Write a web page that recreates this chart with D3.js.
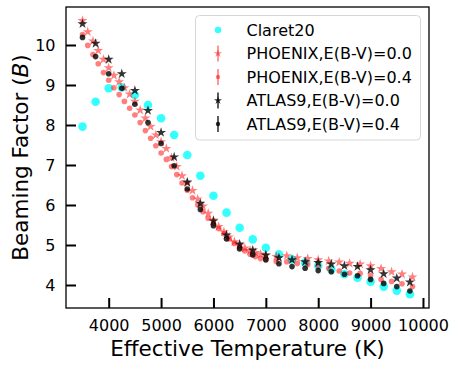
<!DOCTYPE html>
<html lang="en">
  <head>
    <meta charset="utf-8" />
    <title>Beaming factor</title>
    <script src="https://cdn.jsdelivr.net/npm/d3@7/dist/d3.min.js"></script>
    <style>
      body { margin: 0; background: #fff; }
      text { font-family: "DejaVu Sans", sans-serif; fill: #000; }
    </style>
  </head>
  <body>
    <div id="chart"></div>
    <script>
    // Claret20 and ATLAS9 grid: 3500..9750 K in 250 K steps
    var tGrid250 = [3500, 3750, 4000, 4250, 4500, 4750, 5000, 5250, 5500, 5750, 6000, 6250, 6500,
                    6750, 7000, 7250, 7500, 7750, 8000, 8250, 8500, 8750, 9000, 9250, 9500, 9750];
    var claret20 = [7.96, 8.58, 8.92, 8.94, 8.75, 8.50, 8.17, 7.75, 7.25, 6.73, 6.23, 5.81, 5.43,
                    5.14, 4.93, 4.77, 4.64, 4.56, 4.48, 4.39, 4.27, 4.18, 4.08, 3.96, 3.86, 3.77];
    var atlas00 = [10.53, 10.04, 9.64, 9.28, 8.86, 8.36, 7.81, 7.20, 6.57, 6.04, 5.60, 5.25, 5.02,
                   4.87, 4.75, 4.68, 4.63, 4.58, 4.56, 4.52, 4.48, 4.46, 4.38, 4.28, 4.17, 4.07];
    var atlas04 = [10.19, 9.71, 9.28, 8.92, 8.52, 8.06, 7.54, 6.98, 6.40, 5.89, 5.48, 5.15, 4.90,
                   4.75, 4.63, 4.53, 4.46, 4.42, 4.36, 4.33, 4.27, 4.23, 4.14, 4.04, 3.96, 3.85];

    // PHOENIX grid: 100 K steps to 7000 K, then 200 K steps
    var tPhoenix = [3500, 3600, 3700, 3800, 3900, 4000, 4100, 4200, 4300, 4400, 4500, 4600, 4700,
                    4800, 4900, 5000, 5100, 5200, 5300, 5400, 5500, 5600, 5700, 5800, 5900, 6000,
                    6100, 6200, 6300, 6400, 6500, 6600, 6700, 6800, 6900, 7000, 7200, 7400, 7600,
                    7800, 8000, 8200, 8400, 8600, 8800, 9000, 9200, 9400, 9600, 9800];
    var phoenix00 = [10.61, 10.33, 10.10, 9.86, 9.64, 9.43, 9.24, 9.08, 8.93, 8.77, 8.59, 8.37, 8.17,
                     7.96, 7.75, 7.58, 7.41, 7.18, 6.96, 6.73, 6.55, 6.36, 6.15, 5.97, 5.79, 5.62,
                     5.46, 5.33, 5.20, 5.08, 4.99, 4.92, 4.86, 4.81, 4.77, 4.74, 4.71, 4.73, 4.68,
                     4.66, 4.63, 4.60, 4.57, 4.54, 4.52, 4.48, 4.41, 4.33, 4.27, 4.20];
    var phoenix04 = [10.26, 9.99, 9.76, 9.53, 9.31, 9.12, 8.93, 8.76, 8.59, 8.42, 8.25, 8.06, 7.86,
                     7.67, 7.48, 7.30, 7.14, 6.96, 6.76, 6.55, 6.37, 6.18, 6.00, 5.83, 5.67, 5.53,
                     5.41, 5.28, 5.15, 5.04, 4.94, 4.85, 4.77, 4.71, 4.66, 4.63, 4.59, 4.58, 4.54,
                     4.51, 4.47, 4.42, 4.35, 4.30, 4.29, 4.24, 4.14, 4.09, 4.03, 3.96];

    var xTicks = [4000, 5000, 6000, 7000, 8000, 9000, 10000];
    var yTicks = [4, 5, 6, 7, 8, 9, 10];

    var W = 457, H = 368;
    var mLeft = 66, mRight = 429, mTop = 7, mBottom = 308;

    var svg = d3.select("#chart").append("svg")
        .attr("width", W).attr("height", H);

    var x = d3.scaleLinear().domain([3185, 10115]).range([mLeft, mRight]);
    var y = d3.scaleLinear().domain([3.425, 10.95]).range([mBottom, mTop]);

    var zip = function(ts, vs) { return ts.map(function(t, i) { return {t: t, v: vs[i]}; }); };

    var series = [
      {name: "Claret20", data: zip(tGrid250, claret20), shape: "dot", r: 4.3, color: "#00ffff", op: 0.8},
      {name: "PHOENIX,E(B-V)=0.0", data: zip(tPhoenix, phoenix00), shape: "star", size: 31, color: "#ff0000", op: 0.5},
      {name: "PHOENIX,E(B-V)=0.4", data: zip(tPhoenix, phoenix04), shape: "dot", r: 2.8, color: "#ff0000", op: 0.5},
      {name: "ATLAS9,E(B-V)=0.0", data: zip(tGrid250, atlas00), shape: "star", size: 31, color: "#000000", op: 0.8},
      {name: "ATLAS9,E(B-V)=0.4", data: zip(tGrid250, atlas04), shape: "dot", r: 2.8, color: "#000000", op: 0.8}
    ];

    var plot = svg.append("g");
    series.forEach(function(s) {
      var g = plot.append("g").attr("fill", s.color).attr("fill-opacity", s.op);
      if (s.shape === "dot") {
        g.selectAll("circle").data(s.data).enter().append("circle")
          .attr("cx", function(d) { return x(d.t); })
          .attr("cy", function(d) { return y(d.v); })
          .attr("r", s.r);
      } else {
        g.selectAll("path").data(s.data).enter().append("path")
          .attr("d", d3.symbol().type(d3.symbolStar).size(s.size))
          .attr("transform", function(d) { return "translate(" + x(d.t) + "," + y(d.v) + ")"; });
      }
    });

    // axes, ticks pointing inward
    var xAxis = svg.append("g").attr("transform", "translate(0," + mBottom + ")")
      .call(d3.axisBottom(x).tickValues(xTicks).tickFormat(d3.format("d"))
        .tickSizeInner(-10).tickSizeOuter(0).tickPadding(12));
    var yAxis = svg.append("g").attr("transform", "translate(" + mLeft + ",0)")
      .call(d3.axisLeft(y).tickValues(yTicks).tickFormat(d3.format("d"))
        .tickSizeInner(-10).tickSizeOuter(0).tickPadding(10.5));
    [xAxis, yAxis].forEach(function(a) {
      a.select(".domain").remove();
      a.selectAll(".tick line").attr("stroke", "#000").attr("stroke-width", 2);
      a.selectAll(".tick text").attr("font-size", 16).attr("font-family", "DejaVu Sans");
    });

    svg.append("rect")
      .attr("x", mLeft).attr("y", mTop)
      .attr("width", mRight - mLeft).attr("height", mBottom - mTop)
      .attr("fill", "none").attr("stroke", "#000").attr("stroke-width", 1.3);

    svg.append("text")
      .attr("x", (mLeft + mRight) / 2).attr("y", 356)
      .attr("text-anchor", "middle").attr("font-size", 21.5)
      .text("Effective Temperature (K)");

    var yl = svg.append("text")
      .attr("transform", "translate(28," + (mTop + mBottom) / 2 + ") rotate(-90)")
      .attr("text-anchor", "middle").attr("font-size", 21.5);
    yl.append("tspan").text("Beaming Factor (");
    yl.append("tspan").attr("font-style", "italic").text("B");
    yl.append("tspan").text(")");

    // legend
    var lg = svg.append("g");
    lg.append("rect")
      .attr("x", 195.5).attr("y", 15.5).attr("width", 225).attr("height", 124.5)
      .attr("rx", 4).attr("fill", "#fff").attr("fill-opacity", 0.85)
      .attr("stroke", "#d6d6d6").attr("stroke-width", 1);
    var rowY = [30, 53.5, 77, 100.5, 124];
    series.forEach(function(s, i) {
      var cy = rowY[i];
      var g = lg.append("g");
      if (i > 0) {
        g.append("line").attr("x1", 218).attr("x2", 218).attr("y1", cy - 8).attr("y2", cy + 8)
          .attr("stroke", s.color).attr("stroke-opacity", s.op).attr("stroke-width", 1.6);
      }
      if (s.shape === "dot") {
        g.append("circle").attr("cx", 218).attr("cy", cy).attr("r", i === 0 ? 3.2 : 2.2)
          .attr("fill", s.color).attr("fill-opacity", s.op);
      } else {
        g.append("path").attr("d", d3.symbol().type(d3.symbolStar).size(20))
          .attr("transform", "translate(218," + cy + ")")
          .attr("fill", s.color).attr("fill-opacity", s.op);
      }
      lg.append("text").attr("x", 246.5).attr("y", cy + 5.8)
        .attr("font-size", 16).text(s.name);
    });
    </script>
  </body>
</html>
